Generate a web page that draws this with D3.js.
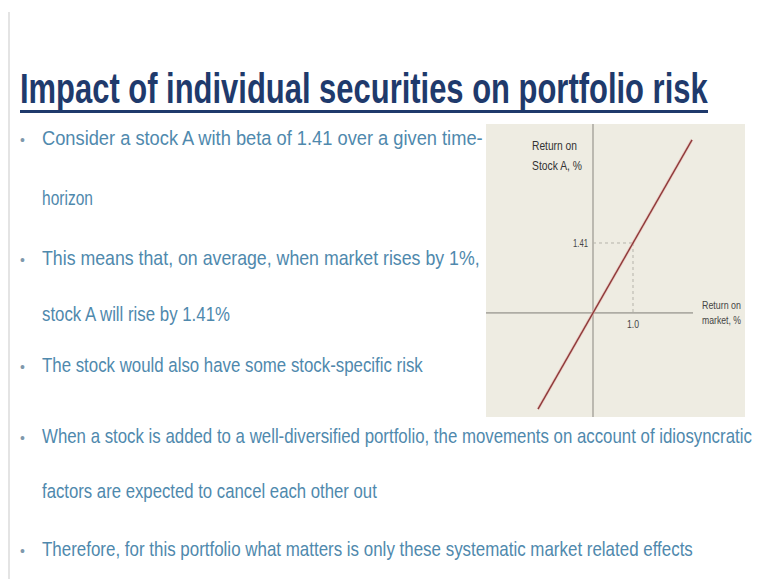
<!DOCTYPE html>
<html><head><meta charset="utf-8">
<script src="https://cdn.jsdelivr.net/npm/d3@7"></script>
<style>html,body{margin:0;padding:0;background:#fff;}svg{display:block;}</style>
</head><body>
<script>
// ---- data ----
const titleText = "Impact of individual securities on portfolio risk";
const bulletLines = [
  {text: "Consider a stock A with beta of 1.41 over a given time-", bullet: true, end: 483},
  {text: "horizon", bullet: false, end: 93},
  {text: "This means that, on average, when market rises by 1%,", bullet: true, end: 480},
  {text: "stock A will rise by 1.41%", bullet: false, end: 230},
  {text: "The stock would also have some stock-specific risk", bullet: true, end: 423},
  {text: "When a stock is added to a well-diversified portfolio, the movements on account of idiosyncratic", bullet: true, end: 752},
  {text: "factors are expected to cancel each other out", bullet: false, end: 377},
  {text: "Therefore, for this portfolio what matters is only these systematic market related effects", bullet: true, end: 693}
];
const lineBaselines = [145, 205, 265, 321, 372, 443, 498, 556];
const marketReturn = [-1.375, 2.475];   // line end points, x
const stockReturn = [-1.94, 3.49];      // line end points, y
const markX = 1.0, markY = 1.41;
const xTickLabels = ["1.0"];
const yTickLabels = ["1.41"];
const xAxisLabel = ["Return on", "market, %"];
const yAxisLabel = ["Return on", "Stock A, %"];
const xDomain = [-2.675, 3.8];
const yDomain = [-2.1, 3.81];
const xAxisEnd = 2.5;

const W = 764, H = 579;
const svg = d3.select("body").append("svg").attr("width", W).attr("height", H);
svg.append("rect").attr("width", W).attr("height", H).attr("fill", "#fff");
svg.append("rect").attr("x", 8).attr("y", 12).attr("width", 2).attr("height", H - 12).attr("fill", "#e4e4e4");

// condensed text: horizontally scale to span [x0, x1]
function condensed(parent, str, x0, x1, yy, size, attrs) {
  const g = parent.append("g");
  const t = g.append("text").attr("x", 0).attr("y", 0).attr("font-size", size).text(str);
  Object.entries(attrs).forEach(([k, v]) => t.attr(k, v));
  const w = t.node().getComputedTextLength();
  const sx = (x1 - x0) / w;
  g.attr("transform", `translate(${x0},${yy}) scale(${sx},1)`);
  return g;
}

const sans = "'Liberation Sans', Arial, sans-serif";
condensed(svg, titleText, 20, 708, 103, 42, {"font-family": sans, "font-weight": "bold", "fill": "#1f3a6c"});
svg.append("rect").attr("x", 20).attr("y", 110).attr("width", 688).attr("height", 3).attr("fill", "#1f3a6c");

// bullets
const tg = svg.append("g");
bulletLines.forEach((d, i) => {
  const yy = lineBaselines[i];
  if (d.bullet) {
    tg.append("text").attr("x", 20).attr("y", yy).attr("font-family", sans)
      .attr("font-size", 14).attr("fill", "#7f98ac").text("•");
  }
  condensed(tg, d.text, 42, d.end, yy, 20.5, {"font-family": sans, "fill": "#4f89ad"});
});

// chart panel
const px0 = 486, px1 = 745, py0 = 124, py1 = 417;
svg.append("rect").attr("x", px0).attr("y", py0).attr("width", px1 - px0).attr("height", py1 - py0).attr("fill", "#eeece2");

const x = d3.scaleLinear().domain(xDomain).range([px0, px1]);
const y = d3.scaleLinear().domain(yDomain).range([py1, py0]);
const axisColor = "#aeaca4";

svg.append("line").attr("x1", x(xDomain[0])).attr("x2", x(xAxisEnd)).attr("y1", y(0)).attr("y2", y(0))
  .attr("stroke", axisColor).attr("stroke-width", 1.6);
svg.append("line").attr("x1", x(0)).attr("x2", x(0)).attr("y1", y(yDomain[1])).attr("y2", y(yDomain[0]))
  .attr("stroke", axisColor).attr("stroke-width", 1.6);

svg.append("line").attr("x1", x(0)).attr("x2", x(markX)).attr("y1", y(markY)).attr("y2", y(markY))
  .attr("stroke", "#b5b3aa").attr("stroke-width", 1).attr("stroke-dasharray", "3,3");
svg.append("line").attr("x1", x(markX)).attr("x2", x(markX)).attr("y1", y(markY)).attr("y2", y(0))
  .attr("stroke", "#b5b3aa").attr("stroke-width", 1).attr("stroke-dasharray", "3,3");

const pts = marketReturn.map((m, i) => [m, stockReturn[i]]);
const lineGen = d3.line().x(d => x(d[0])).y(d => y(d[1]));
svg.append("path").datum(pts).attr("d", lineGen)
  .attr("stroke", "#e8b8b0").attr("stroke-width", 3).attr("fill", "none").attr("opacity", 0.6);
svg.append("path").datum(pts).attr("d", lineGen)
  .attr("stroke", "#8e3a3a").attr("stroke-width", 1.4).attr("fill", "none");

// chart labels (condensed like the reference)
const lab = {"font-family": sans, "fill": "#444"};
condensed(svg, yTickLabels[0], x(0) - 20, x(0) - 5, y(markY) + 4, 11, lab);
condensed(svg, xTickLabels[0], x(markX) - 6, x(markX) + 6, y(0) + 15, 11, lab);
condensed(svg, yAxisLabel[0], 532, 577, 150, 12, {"font-family": sans, "fill": "#333"});
condensed(svg, yAxisLabel[1], 532, 582, 170, 12, {"font-family": sans, "fill": "#333"});
condensed(svg, xAxisLabel[0], 702, 741, 309, 11, lab);
condensed(svg, xAxisLabel[1], 702, 741, 324, 11, lab);
</script>
</body></html>
